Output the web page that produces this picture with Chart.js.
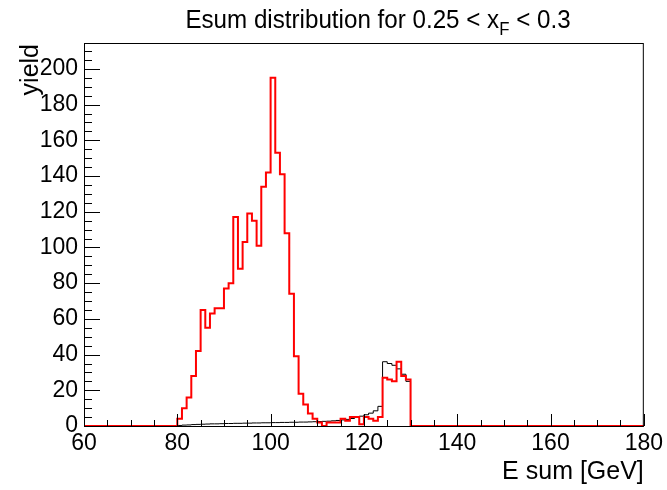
<!DOCTYPE html>
<html>
<head>
<meta charset="utf-8">
<script src="https://cdn.jsdelivr.net/npm/chart.js@4"></script>
<style>
  html, body { margin: 0; padding: 0; background: #fff; }
  #wrap { width: 667px; height: 490px; }
</style>
</head>
<body>
<div id="wrap"><canvas id="c" width="667" height="490"></canvas></div>
<script>
// histogram range and binning (GeV)
const xRange = [60, 180];
const binWidth = 1;
const firstFilledBin = 80;
const yMax = 214.5;

// red histogram, bins 80..129
const redCounts = [
    4, 10, 16, 28, 42, 65, 55, 63, 66, 66,
    77, 80, 117, 88, 103, 119, 115, 101, 134, 142,
    195, 153, 141, 108, 74, 39, 18, 12, 7, 4,
    2, 0, 2, 2, 2, 4, 3, 5, 5, 1,
    5, 4, 3, 5, 27, 26, 25, 36, 28, 26
];

// black histogram, bins 80..129
const blackCounts = [
    0.3, 0.5, 0.6, 0.8, 0.9, 1.0, 1.1, 1.2, 1.2, 1.3,
    1.4, 1.4, 1.5, 1.5, 1.6, 1.6, 1.7, 1.7, 1.8, 1.8,
    1.9, 1.9, 2.0, 2.0, 2.1, 2.1, 2.2, 2.2, 2.3, 2.4,
    2.5, 2.6, 2.7, 2.9, 3.1, 3.4, 3.7, 4.2, 4.8, 5.5,
    6.3, 7.2, 8.5, 11, 36, 35, 34, 32, 29, 25
];

const xTickLabels = [60, 80, 100, 120, 140, 160, 180];
const yTickLabels = [0, 20, 40, 60, 80, 100, 120, 140, 160, 180, 200];

const titleMain = "Esum distribution for 0.25 < x";
const titleSub = "F";
const titleEnd = " < 0.3";
const xTitle = "E sum [GeV]";
const yTitle = "yield";

const FONT = '"Liberation Sans", Arial, sans-serif';

// step points at the low edge of each bin, plus the upper edge
function histPoints(counts) {
    const pts = [];
    for (let x = xRange[0]; x < xRange[1]; x += binWidth) {
        const i = Math.round((x - firstFilledBin) / binWidth);
        const v = (i >= 0 && i < counts.length) ? counts[i] : 0;
        pts.push({ x: x, y: v });
    }
    pts.push({ x: xRange[1], y: pts[pts.length - 1].y });
    return pts;
}

const rootLook = {
    id: 'rootLook',
    afterDraw(chart) {
        const ctx = chart.ctx;
        const a = chart.chartArea;
        const xs = chart.scales.x;
        const ys = chart.scales.y;
        ctx.save();
        ctx.strokeStyle = '#000';
        ctx.lineWidth = 1;
        ctx.strokeRect(a.left + 0.5, a.top + 0.5, a.right - a.left - 1, a.bottom - a.top);

        // x ticks, inward
        ctx.beginPath();
        for (let v = xRange[0]; v <= xRange[1]; v += 5) {
            const px = Math.round(xs.getPixelForValue(v)) + 0.5;
            const len = (v % 20 === 0) ? 12 : 6;
            ctx.moveTo(px, a.bottom);
            ctx.lineTo(px, a.bottom - len);
        }
        // y ticks, inward
        for (let v = 0; v <= yMax; v += 5) {
            const py = Math.round(ys.getPixelForValue(v)) + 0.5;
            const len = (v % 20 === 0) ? 16 : 8;
            ctx.moveTo(a.left, py);
            ctx.lineTo(a.left + len, py);
        }
        ctx.stroke();

        ctx.fillStyle = '#000';
        // title with subscript, slightly condensed like ROOT's Helvetica
        const squeeze = 0.93;
        const big = '26px ' + FONT;
        const small = '18px ' + FONT;
        ctx.font = big;
        const w1 = ctx.measureText(titleMain).width;
        const w3 = ctx.measureText(titleEnd).width;
        ctx.font = small;
        const w2 = ctx.measureText(titleSub).width;
        ctx.save();
        ctx.translate(378 - squeeze * (w1 + w2 + w3) / 2, 0);
        ctx.scale(squeeze, 1);
        ctx.textAlign = 'left';
        ctx.textBaseline = 'alphabetic';
        let tx = 0;
        ctx.font = big;
        ctx.fillText(titleMain, tx, 28);
        tx += w1;
        ctx.font = small;
        ctx.fillText(titleSub, tx, 35);
        tx += w2;
        ctx.font = big;
        ctx.fillText(titleEnd, tx, 28);
        ctx.restore();

        // axis titles
        ctx.font = '25px ' + FONT;
        ctx.textAlign = 'right';
        ctx.textBaseline = 'alphabetic';
        ctx.fillText(xTitle, a.right, 479);
        ctx.translate(38, a.top + 1);
        ctx.rotate(-Math.PI / 2);
        ctx.fillText(yTitle, 0, 0);
        ctx.restore();
    }
};

new Chart(
    document.getElementById('c'),
    {
        type: 'line',
        data: {
            datasets: [
                {
                    label: 'red',
                    data: histPoints(redCounts),
                    borderColor: 'rgb(255,0,0)',
                    borderWidth: 2,
                    stepped: 'before',
                    pointRadius: 0,
                    fill: false,
                    clip: false
                },
                {
                    label: 'black',
                    data: histPoints(blackCounts),
                    borderColor: 'rgb(0,0,0)',
                    borderWidth: 1,
                    stepped: 'before',
                    pointRadius: 0,
                    fill: false,
                    clip: false
                }
            ]
        },
        options: {
            responsive: false,
            animation: false,
            devicePixelRatio: 1,
            layout: {
                padding: { left: 0, right: 22, top: 43, bottom: 0 }
            },
            plugins: {
                legend: { display: false },
                title: { display: false },
                tooltip: { enabled: false }
            },
            scales: {
                x: {
                    type: 'linear',
                    min: xRange[0],
                    max: xRange[1],
                    afterFit: s => { s.height = 64; },
                    afterBuildTicks: s => { s.ticks = xTickLabels.map(v => ({ value: v })); },
                    grid: { display: false, drawTicks: false },
                    border: { display: false },
                    ticks: {
                        padding: 4,
                        color: '#000',
                        font: { family: FONT, size: 23 },
                        maxRotation: 0,
                        autoSkip: false
                    }
                },
                y: {
                    type: 'linear',
                    min: 0,
                    max: yMax,
                    afterFit: s => { s.width = 84; },
                    afterBuildTicks: s => { s.ticks = yTickLabels.map(v => ({ value: v })); },
                    grid: { display: false, drawTicks: false },
                    border: { display: false },
                    ticks: {
                        padding: 6,
                        color: '#000',
                        font: { family: FONT, size: 23 },
                        autoSkip: false
                    }
                }
            }
        },
        plugins: [rootLook]
    }
);
</script>
</body>
</html>
